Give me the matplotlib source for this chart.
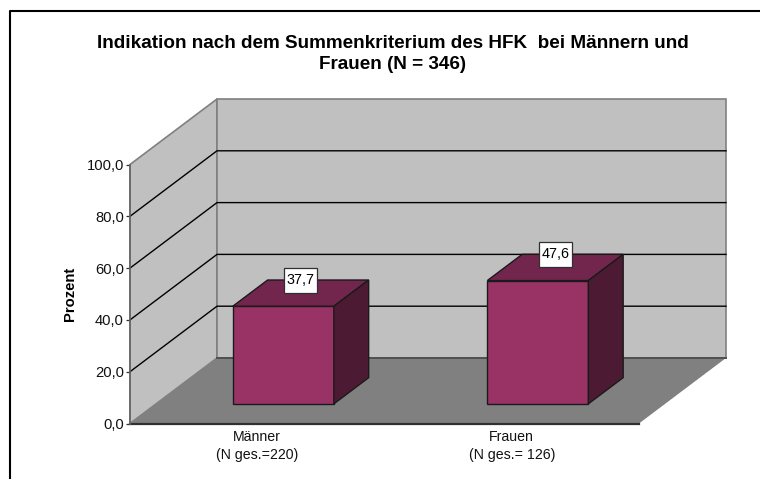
import matplotlib
matplotlib.use("Agg")
import matplotlib.pyplot as plt
from matplotlib.lines import Line2D
from matplotlib.patches import Polygon, Rectangle

plt.rcParams['font.family'] = ['Liberation Sans', 'DejaVu Sans']

categories = ["Männer\n(N ges.=220)", "Frauen\n(N ges.= 126)"]
values = [37.7, 47.6]
value_labels = ["37,7", "47,6"]
y_ticks = [0, 20, 40, 60, 80, 100]
y_tick_labels = ["0,0", "20,0", "40,0", "60,0", "80,0", "100,0"]
title = "Indikation nach dem Summenkriterium des HFK  bei Männern und\nFrauen (N = 346)"

W, H = 760, 479
# Front plane of the pseudo 3D box in pixels
left, right, bottom, top = 130, 639, 423.5, 164.5
px_x = len(categories) / (right - left)   # x units per pixel
px_y = 100 / (bottom - top)               # value units per pixel
depth_x = 87 * px_x                       # x units for the full depth
depth_y = 65.5 * px_y                     # value units for the full depth
bar_width = 0.397


def pt(x, v, d=0.0):
    """Oblique projection: category x, value v, depth d (0 front, 1 back)."""
    return (x + d * depth_x, v + d * depth_y)


fig = plt.figure(figsize=(W / 100, H / 100), dpi=100)
fig.patch.set_facecolor('white')
ax = fig.add_axes([left / W, 1 - bottom / H, (right - left) / W, (bottom - top) / H])
ax.set_xlim(0, len(categories))
ax.set_ylim(0, 100)
ax.patch.set_visible(False)
for s in ax.spines.values():
    s.set_visible(False)

xmax = len(categories)

# Walls and floor
ax.add_patch(Polygon([pt(0, 0), pt(0, 0, 1), pt(0, 100, 1), pt(0, 100)], closed=True, fc='#C0C0C0', ec='#808080', lw=1.2, clip_on=False, zorder=1))
ax.add_patch(Polygon([pt(0, 0, 1), pt(xmax, 0, 1), pt(xmax, 100, 1), pt(0, 100, 1)], closed=True, fc='#C0C0C0', ec='#808080', lw=1.2, clip_on=False, zorder=1))
ax.add_patch(Polygon([pt(0, 0), pt(xmax, 0), pt(xmax, 0, 1), pt(0, 0, 1)], closed=True, fc='#808080', ec='none', clip_on=False, zorder=2))
ax.plot(*zip(pt(0, 0, 1), pt(xmax, 0, 1)), color='#505050', lw=1.4, clip_on=False, zorder=3)
ax.plot(*zip(pt(0, 0), pt(xmax, 0)), color='#303030', lw=1.6, clip_on=False, zorder=3)
ax.plot(*zip(pt(0, 0), pt(0, 100)), color='#666666', lw=1.2, clip_on=False, zorder=3)

# Grid lines on side and back wall
for v in y_ticks[1:-1]:
    ax.plot(*zip(pt(0, v), pt(0, v, 1), pt(xmax, v, 1)), color='black', lw=1, clip_on=False, zorder=2)

# Bars
d0, d1 = 0.3, 0.7
for i, (v, lab) in enumerate(zip(values, value_labels)):
    x0 = i + 0.5 - bar_width / 2
    x1 = i + 0.5 + bar_width / 2
    ax.add_patch(Polygon([pt(x0, 0, d0), pt(x1, 0, d0), pt(x1, v, d0), pt(x0, v, d0)], closed=True, fc='#993366', ec='#1A1A1A', lw=1, clip_on=False, zorder=4))
    ax.add_patch(Polygon([pt(x0, v, d0), pt(x1, v, d0), pt(x1, v, d1), pt(x0, v, d1)], closed=True, fc='#73264D', ec='#1A1A1A', lw=1, clip_on=False, zorder=4))
    ax.add_patch(Polygon([pt(x1, 0, d0), pt(x1, 0, d1), pt(x1, v, d1), pt(x1, v, d0)], closed=True, fc='#4D1A33', ec='#1A1A1A', lw=1, clip_on=False, zorder=4))
    lx, ly = pt(i + 0.5, v, 0.5)
    ly += 13 * px_y
    ax.add_patch(Rectangle((lx - 16.5 * px_x, ly - 12.5 * px_y), 33 * px_x, 25 * px_y, fc='white', ec='#303030', lw=0.9, clip_on=False, zorder=5))
    ax.text(lx, ly, lab, ha='center', va='center', fontsize=10.4, color='black', zorder=6, clip_on=False)

# Axis ticks and labels
ax.set_yticks(y_ticks)
ax.set_yticklabels(y_tick_labels)
ax.set_xticks([i + 0.5 for i in range(len(categories))])
ax.set_xticklabels(categories, linespacing=1.35)
ax.tick_params(axis='y', length=3, width=0.9, color='#303030', pad=1.5, labelsize=10.6, labelcolor='#111111')
ax.tick_params(axis='x', length=0, pad=5, labelsize=10.2, labelcolor='#111111')
ax.set_ylabel("Prozent", fontsize=10.6, fontweight='bold', labelpad=0)
ax.yaxis.set_label_coords((77 - left) / (right - left), (bottom - 293.5) / (bottom - top))

fig.text(393 / W, 1 - 54 / H, title, ha='center', va='center', fontsize=13.6, fontweight='bold', linespacing=1.3)

# Outer frame: only the left and top edges show
fig.add_artist(Line2D([10 / W, 10 / W, 1], [0, 1 - 11 / H, 1 - 11 / H], transform=fig.transFigure, color='black', lw=1.5))

fig.savefig("out.png", dpi=100)
